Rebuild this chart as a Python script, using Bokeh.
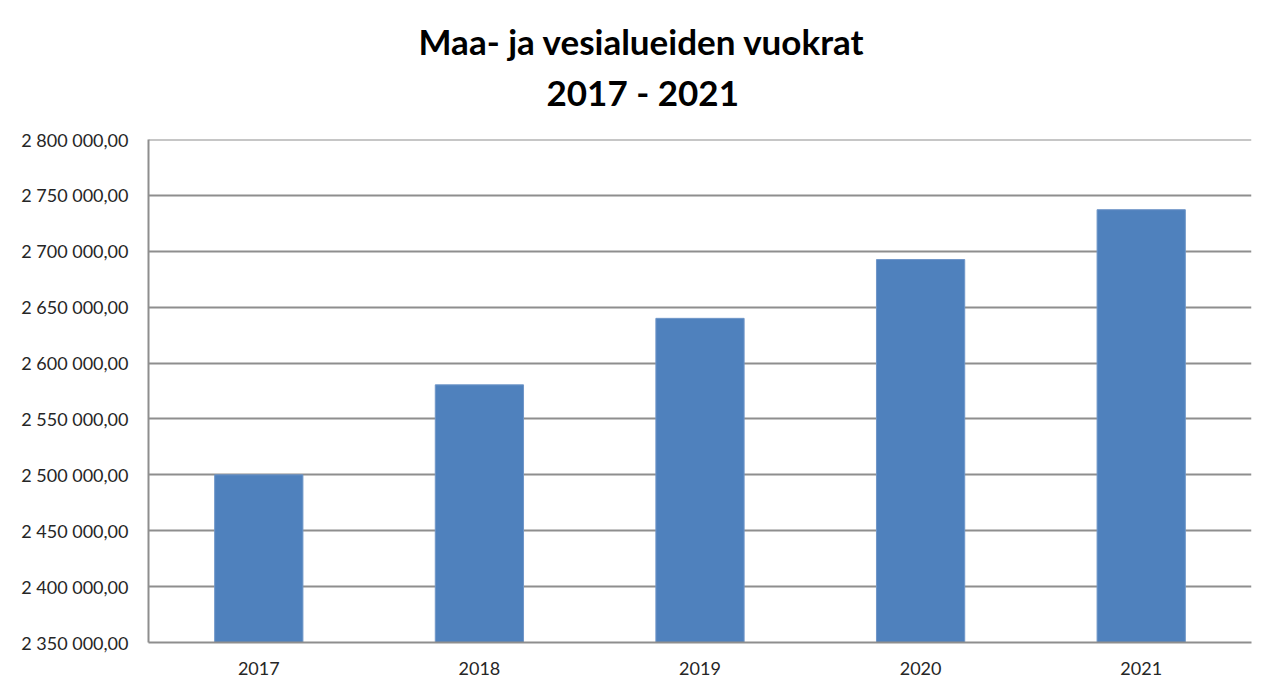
from bokeh.plotting import figure
from bokeh.models import Range1d, FixedTicker, Title, Span
from bokeh.embed import file_html
from bokeh.resources import INLINE

years = ["2017", "2018", "2019", "2020", "2021"]
rents = [2500000, 2580500, 2640000, 2692600, 2737200]
y_ticks = [2350000, 2400000, 2450000, 2500000, 2550000, 2600000, 2650000, 2700000, 2750000, 2800000]
y_tick_labels = ["2 350 000,00", "2 400 000,00", "2 450 000,00", "2 500 000,00", "2 550 000,00",
                 "2 600 000,00", "2 650 000,00", "2 700 000,00", "2 750 000,00", "2 800 000,00"]
title_lines = ["Maa- ja vesialueiden vuokrat", "2017 - 2021"]

FONT = "Lato"
GRID = "#8e8e8e"

p = figure(x_range=years, y_range=Range1d(y_ticks[0], y_ticks[-1]),
           width=1258, height=677, output_backend="svg", toolbar_location=None,
           min_border_left=148, min_border_right=7, min_border_top=139, min_border_bottom=35)

p.vbar(x=years, top=rents, bottom=y_ticks[0], width=0.4, fill_color="#4f81bd", line_color="#6f96c8", line_width=1)

p.title.visible = False
t2 = Title(text=title_lines[1], align="left", offset=398, text_font=FONT, text_font_size="35px",
           text_font_style="bold", text_color="#000000", standoff=53)
t1 = Title(text=title_lines[0], align="left", offset=270, text_font=FONT, text_font_size="35px",
           text_font_style="bold", text_color="#000000", standoff=-38)
p.add_layout(t2, "above")
p.add_layout(t1, "above")

p.add_layout(Span(location=y_ticks[-1], dimension="width", line_color=GRID, line_width=2))

p.yaxis.ticker = FixedTicker(ticks=y_ticks)
p.yaxis.major_label_overrides = {t: l for t, l in zip(y_ticks, y_tick_labels)}
p.yaxis.major_tick_line_color = None
p.yaxis.major_tick_out = 0
p.yaxis.major_tick_in = 0
p.yaxis.minor_tick_line_color = None
p.yaxis.major_label_standoff = 20
p.yaxis.axis_line_color = GRID
p.yaxis.axis_line_width = 2
p.yaxis.major_label_text_font = FONT
p.yaxis.major_label_text_font_size = "18px"
p.yaxis.major_label_text_color = "#262626"

p.xaxis.major_tick_line_color = None
p.xaxis.major_tick_out = 0
p.xaxis.major_tick_in = 0
p.xaxis.minor_tick_line_color = None
p.xaxis.axis_line_color = GRID
p.xaxis.axis_line_width = 2
p.xaxis.major_label_standoff = 19
p.xaxis.major_label_text_font = FONT
p.xaxis.major_label_text_font_size = "18px"
p.xaxis.major_label_text_color = "#262626"

p.xgrid.grid_line_color = None
p.ygrid.grid_line_color = GRID
p.ygrid.grid_line_width = 2
p.ygrid.ticker = FixedTicker(ticks=y_ticks)

p.outline_line_color = None
p.background_fill_color = "white"
p.border_fill_color = "white"
p.x_range.range_padding = 0.0

open("out.html", "w").write(file_html(p, INLINE))
